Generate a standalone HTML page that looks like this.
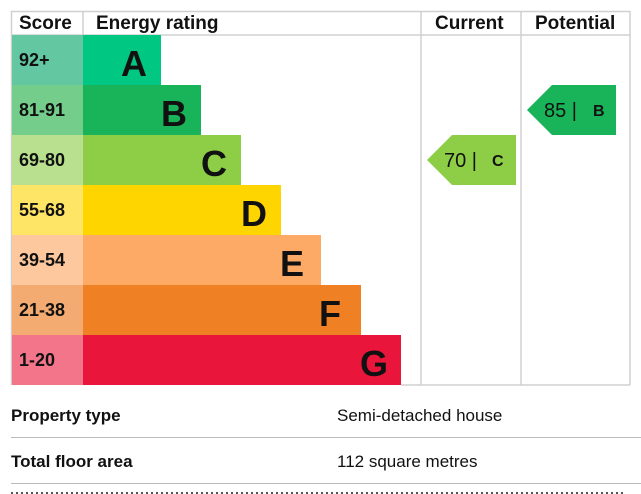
<!DOCTYPE html>
<html><head><style>
body{margin:0;background:#fff;width:641px;height:494px;overflow:hidden;font-family:"Liberation Sans",sans-serif}
</style></head><body>
<svg width="641" height="494" xmlns="http://www.w3.org/2000/svg" style="position:absolute;left:0;top:0">
<g stroke="#d0d0d0" stroke-width="1.5" fill="none">
<line x1="11" y1="11.5" x2="630" y2="11.5"/>
<line x1="11" y1="35" x2="630" y2="35"/>
<line x1="11.5" y1="11" x2="11.5" y2="385"/>
<line x1="83" y1="11" x2="83" y2="35"/>
<line x1="421" y1="11" x2="421" y2="385"/>
<line x1="521" y1="11" x2="521" y2="385"/>
<line x1="630" y1="11" x2="630" y2="385"/>
<line x1="401" y1="385" x2="630" y2="385"/>
</g>
<g font-weight="bold" font-size="19" fill="#111">
<text x="19" y="29">Score</text>
<text x="96" y="29">Energy rating</text>
<text x="435" y="29">Current</text>
<text x="535" y="29">Potential</text>
</g>
<g>
<rect x="12" y="35" width="71" height="50" fill="#63c7a1"/><rect x="83" y="35" width="78" height="50" fill="#00c781"/>
<rect x="12" y="85" width="71" height="50" fill="#75cd8b"/><rect x="83" y="85" width="118" height="50" fill="#19b459"/>
<rect x="12" y="135" width="71" height="50" fill="#b8e08e"/><rect x="83" y="135" width="158" height="50" fill="#8dce46"/>
<rect x="12" y="185" width="71" height="50" fill="#ffe566"/><rect x="83" y="185" width="198" height="50" fill="#ffd500"/>
<rect x="12" y="235" width="71" height="50" fill="#fdc89d"/><rect x="83" y="235" width="238" height="50" fill="#fcaa65"/>
<rect x="12" y="285" width="71" height="50" fill="#f4ab72"/><rect x="83" y="285" width="278" height="50" fill="#ef8023"/>
<rect x="12" y="335" width="71" height="50" fill="#f2758a"/><rect x="83" y="335" width="318" height="50" fill="#e9153b"/>
</g>
<g font-weight="bold" font-size="18" fill="#111">
<text x="19" y="66">92+</text><text x="19" y="116">81-91</text><text x="19" y="166">69-80</text>
<text x="19" y="216">55-68</text><text x="19" y="266">39-54</text><text x="19" y="316">21-38</text><text x="19" y="366">1-20</text>
</g>
<g font-weight="bold" font-size="36" fill="#111" text-anchor="end">
<text x="147" y="76">A</text><text x="187" y="126">B</text><text x="227" y="176">C</text>
<text x="267" y="226">D</text><text x="304" y="276">E</text><text x="341" y="326">F</text><text x="388" y="376">G</text>
</g>
<polygon points="427,160 452,135 516,135 516,185 452,185" fill="#8dce46"/>
<text x="444" y="167" font-size="20" fill="#111">70 |</text><text x="492" y="166" font-size="16" font-weight="bold" fill="#111">C</text>
<polygon points="527,110 552,85 616,85 616,135 552,135" fill="#19b459"/>
<text x="544" y="117" font-size="20" fill="#111">85 |</text><text x="593" y="116" font-size="16" font-weight="bold" fill="#111">B</text>
<g stroke="#bbb" stroke-width="1">
<line x1="11" y1="437.5" x2="641" y2="437.5"/>
<line x1="11" y1="483.5" x2="641" y2="483.5"/>
</g>
<g font-size="17" fill="#111">
<text x="11" y="421" font-weight="bold">Property type</text>
<text x="337" y="421">Semi-detached house</text>
<text x="11" y="467" font-weight="bold">Total floor area</text>
<text x="337" y="467">112 square metres</text>
</g>
<line x1="11" y1="493" x2="625" y2="493" stroke="#555" stroke-width="2" stroke-dasharray="2,3"/>
</svg>
</body></html>
